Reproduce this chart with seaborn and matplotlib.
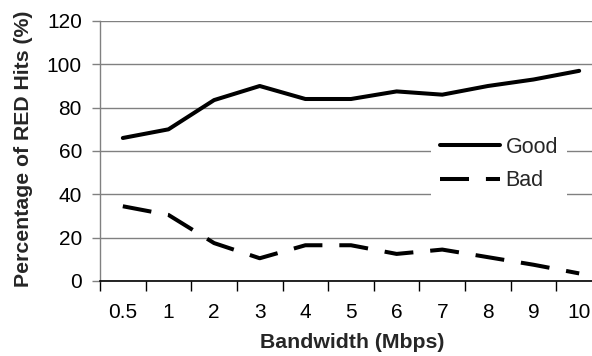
import matplotlib
matplotlib.use("Agg")
import matplotlib.pyplot as plt
import seaborn as sns
import pandas as pd

bandwidth = ["0.5", "1", "2", "3", "4", "5", "6", "7", "8", "9", "10"]
good_hits = [66, 70, 83.5, 90, 84, 84, 87.5, 86, 90, 93, 97]
bad_hits = [34.5, 30.5, 17.5, 10.5, 16.5, 16.5, 12.5, 14.5, 11, 7.5, 3.5]

df = pd.DataFrame({"bw": bandwidth, "Good": good_hits, "Bad": bad_hits})

sns.set_theme(style="white")
plt.rcParams["font.family"] = ["Liberation Sans", "DejaVu Sans"]

fig = plt.figure(figsize=(5.92, 3.56), dpi=100)
ax = fig.add_axes([100 / 592, 1 - 281 / 356, 502 / 592, 260 / 356])

lw = 2.9
sns.lineplot(data=df, x="bw", y="Good", ax=ax, color="black", lw=lw,
             label="Good", sort=False)
sns.lineplot(data=df, x="bw", y="Bad", ax=ax, color="black", lw=lw,
             label="Bad", sort=False, linestyle=(0, (7.2, 4.2)))

ax.set_xlim(-0.5, len(bandwidth) - 0.5)
ax.set_ylim(0, 120)
ax.set_yticks(range(0, 121, 20))
ax.set_xticks(range(len(bandwidth)))
ax.set_xticklabels(bandwidth)

# minor ticks sit between categories, like a category axis
ax.set_xticks([i - 0.5 for i in range(len(bandwidth) + 1)], minor=True)
ax.tick_params(axis="x", which="major", length=0, pad=16, labelsize=15,
               colors="black")
ax.tick_params(axis="x", which="minor", length=7, width=1, color="black",
               direction="out", bottom=True)
ax.tick_params(axis="y", length=6, width=1, color="#808080", pad=7,
               labelsize=15, left=True, direction="out", labelcolor="black")

ax.grid(axis="y", color="#808080", lw=1)
ax.set_axisbelow(True)
for side in ("top", "right"):
    ax.spines[side].set_visible(False)
ax.spines["left"].set_color("#808080")
ax.spines["left"].set_linewidth(1)
ax.spines["bottom"].set_color("black")
ax.spines["bottom"].set_linewidth(1.2)
ax.spines["bottom"].set_zorder(3)

ax.set_xlabel("Bandwidth (Mbps)", fontsize=15.3, fontweight="bold", va="center")
ax.set_ylabel("Percentage of RED Hits (%)", fontsize=15.3, fontweight="bold",
              va="center")
ax.xaxis.set_label_coords(252 / 502, (281 - 343) / 260)
ax.yaxis.set_label_coords((24 - 100) / 502, (281 - 149) / 260)

leg = ax.legend(loc="center", bbox_to_anchor=(499 / 592, 1 - 164 / 356),
                bbox_transform=fig.transFigure, fontsize=15.5, frameon=True,
                facecolor="white", edgecolor="none", framealpha=1,
                fancybox=False, handlelength=2.8, handletextpad=0.25,
                labelspacing=0.6, borderpad=0.4)

fig.savefig("out.png", dpi=100)
